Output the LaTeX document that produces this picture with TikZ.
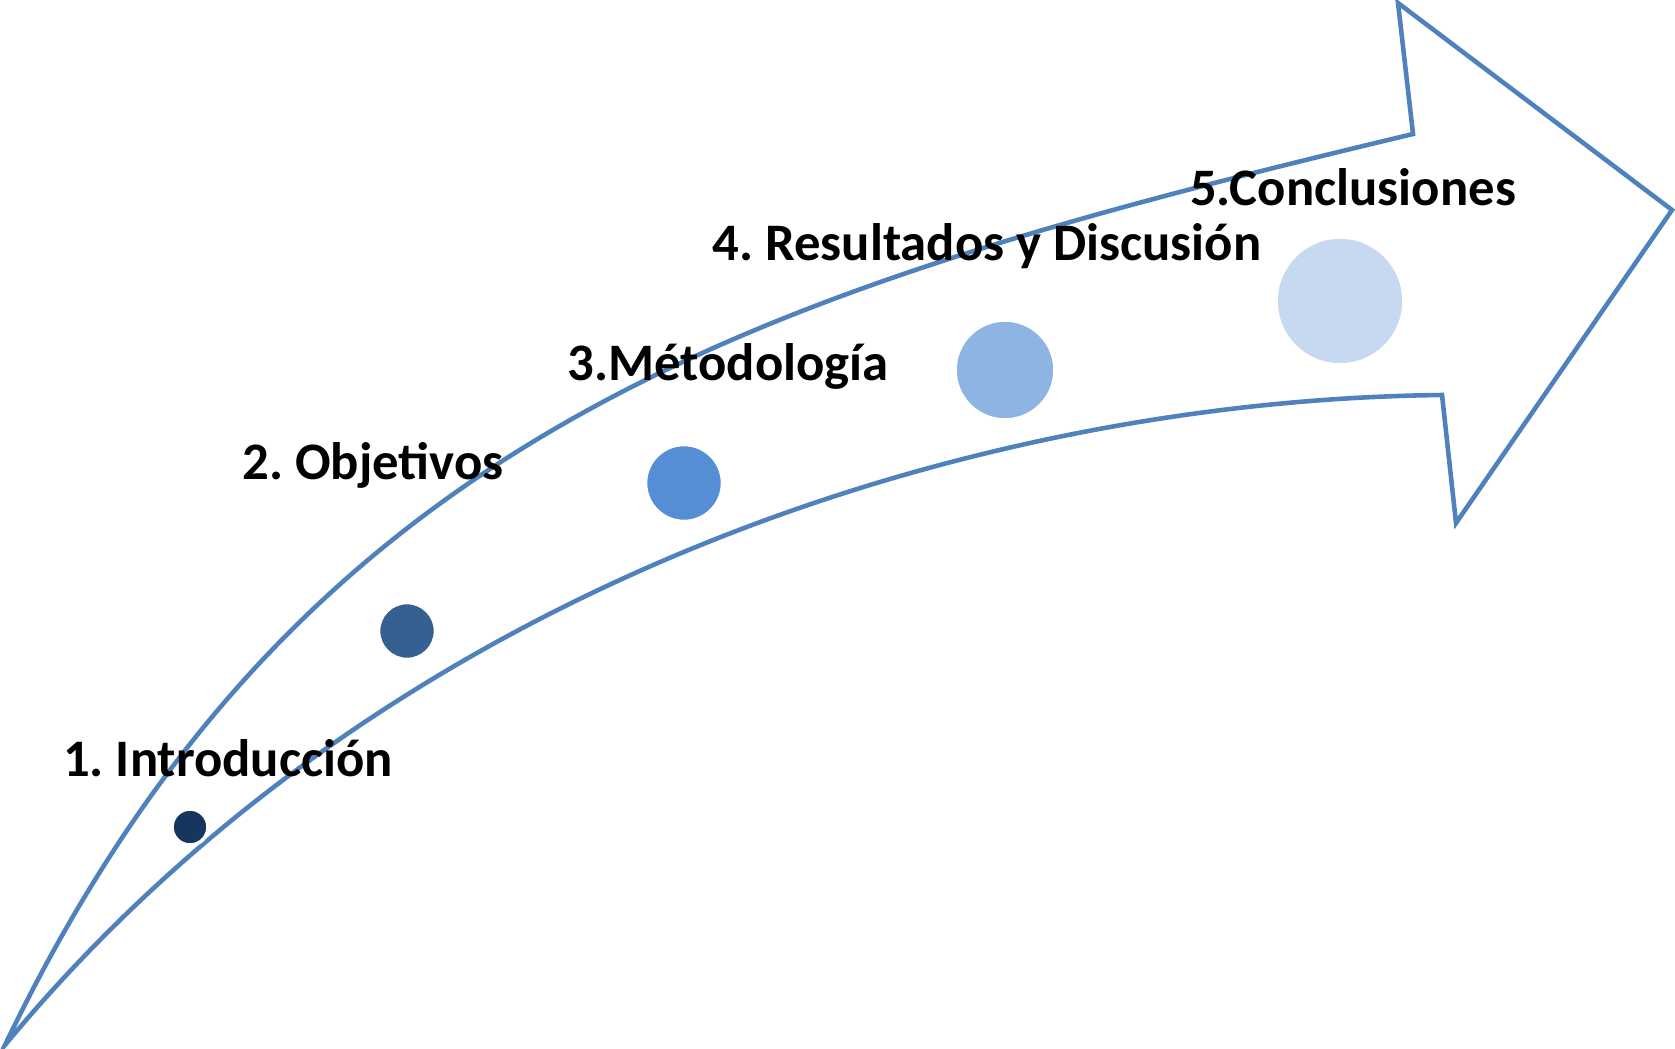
\documentclass[tikz,border=0pt]{standalone}
\usepackage{fontspec}
\setmainfont{Carlito}
\frenchspacing
\definecolor{arrowblue}{HTML}{4F81BD}
\definecolor{dotA}{HTML}{17365D}
\definecolor{dotB}{HTML}{366092}
\definecolor{dotC}{HTML}{558ED5}
\definecolor{dotD}{HTML}{8EB4E3}
\definecolor{dotE}{HTML}{C6D9F1}

\begin{document}
\begin{tikzpicture}[x=0.02cm,y=-0.02cm,
    every node/.style={inner sep=0pt},
    stage/.style={font=\fontsize{30}{36}\selectfont\bfseries},
    dot/.style={circle,draw=white,line width=2pt,minimum size=#1}]
\useasboundingbox (0,0) rectangle (1675,1048);
    % arrow outline
    \draw[arrowblue,line width=2.6pt,line join=miter]
      (5,1045) .. controls (300,430) and (760,290) .. (1413,134)
      -- (1398,3) -- (1672,210) -- (1456,523) -- (1442,395)
      .. controls (980,400) and (390,580) .. (5,1045) -- cycle;
    % dots
    \node[dot=0.72cm,fill=dotA] (d1) at (190,827) {};
    \node[dot=1.14cm,fill=dotB] (d2) at (407,631) {};
    \node[dot=1.54cm,fill=dotC] (d3) at (684,483) {};
    \node[dot=2cm,fill=dotD] (d4) at (1005,370) {};
    \node[dot=2.56cm,fill=dotE] (d5) at (1340,301) {};
    % labels
    \node[stage] (l1) at (228,758) {1. Introducción};
    \node[stage] (l2) at (373,465) {2. Objetivos};
    \node[stage] (l3) at (728,366) {3.Métodología};
    \node[stage] (l4) at (987,246) {4. Resultados y Discusión};
    \node[stage] (l5) at (1353,187) {5.Conclusiones};
\end{tikzpicture}
\end{document}
